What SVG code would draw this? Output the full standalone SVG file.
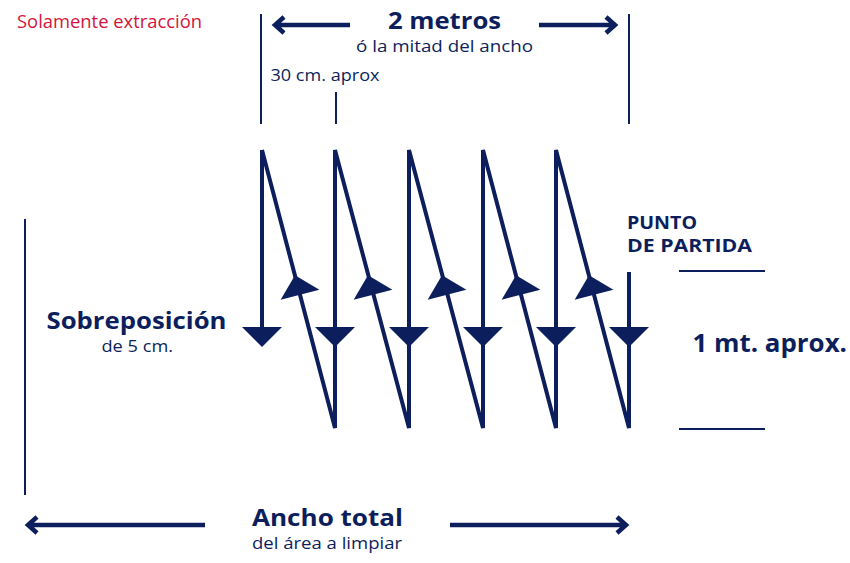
<svg xmlns="http://www.w3.org/2000/svg" width="850" height="563" viewBox="0 0 850 563">
<defs>
<style>
.t{font-family:"Open Sans","Noto Sans","Liberation Sans",sans-serif;fill:#0c1e5b}
.b{font-weight:700}
.red{fill:#d3143c}
.zz{stroke:#0c1e5b;stroke-width:4;fill:none;stroke-linejoin:miter}
.dim{stroke:#0c1e5b;stroke-width:2;fill:none}
.arr{stroke:#0c1e5b;stroke-width:4.5;fill:none}
.head{fill:#0c1e5b}
</style>
<polygon id="down" points="-20,-10 20,-10 0,10"/>
<polygon id="up" points="0,-10 -20,10 20,10"/>
</defs>
<rect width="850" height="563" fill="#fff"/>
<g id="connectors">
<path class="zz" d="M262,150 V330 M262,150 L335,428 V150 L409,428 V150 L483,428 V150 L556,428 V150 L629,428 V272"/>
<g class="head">
<use href="#down" x="262" y="337"/>
<use href="#down" x="335" y="337"/>
<use href="#down" x="409" y="337"/>
<use href="#down" x="483" y="337"/>
<use href="#down" x="556" y="337"/>
<use href="#down" x="629" y="337"/>
<use href="#up" transform="translate(297.5,285) rotate(-14.5)"/>
<use href="#up" transform="translate(370.5,285) rotate(-14.5)"/>
<use href="#up" transform="translate(444.5,285) rotate(-14.5)"/>
<use href="#up" transform="translate(518.5,285) rotate(-14.5)"/>
<use href="#up" transform="translate(591.5,285) rotate(-14.5)"/>
</g>
<path class="dim" d="M261,14 V124 M629,14 V124 M336,92 V124 M25,219 V495 M679,271 H765 M679,429 H765"/>
<path class="arr" d="M275,25 H350 M284,17 L275,25 L284,33 M539,25 H615 M606,17 L615,25 L606,33"/>
<path class="arr" d="M28,525 H205 M37,517 L28,525 L37,533 M450,525 H626 M617,517 L626,525 L617,533"/>
</g>
<g id="labels">
<text class="t red" x="17" y="28" font-size="18" font-weight="500" textLength="185" lengthAdjust="spacingAndGlyphs">Solamente extracción</text>
<text class="t b" x="388" y="29" font-size="24" textLength="113" lengthAdjust="spacingAndGlyphs">2 metros</text>
<text class="t" x="356" y="52" font-size="17" font-weight="500" textLength="177" lengthAdjust="spacingAndGlyphs">ó la mitad del ancho</text>
<text class="t" x="270.5" y="81" font-size="17" font-weight="500" textLength="109" lengthAdjust="spacingAndGlyphs">30 cm. aprox</text>
<text class="t b" x="46.5" y="329" font-size="23" textLength="180" lengthAdjust="spacingAndGlyphs">Sobreposición</text>
<text class="t" x="101.5" y="352" font-size="16" font-weight="500" textLength="71.5" lengthAdjust="spacingAndGlyphs">de 5 cm.</text>
<text class="t b" x="627" y="229" font-size="18" textLength="70" lengthAdjust="spacingAndGlyphs">PUNTO</text>
<text class="t b" x="627" y="252" font-size="18" textLength="125" lengthAdjust="spacingAndGlyphs">DE PARTIDA</text>
<text class="t b" x="692.5" y="352" font-size="25" textLength="154.5" lengthAdjust="spacingAndGlyphs">1 mt. aprox.</text>
<text class="t b" x="252" y="526" font-size="24" textLength="151" lengthAdjust="spacingAndGlyphs">Ancho total</text>
<text class="t" x="252" y="549" font-size="17" font-weight="500" textLength="150" lengthAdjust="spacingAndGlyphs">del área a limpiar</text>
</g>
</svg>
